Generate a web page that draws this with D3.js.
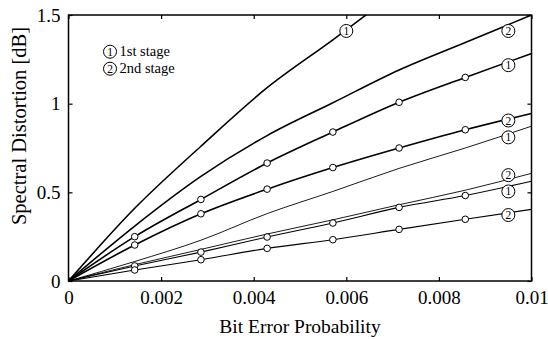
<!DOCTYPE html>
<html>
<head>
<meta charset="utf-8">
<script src="https://cdn.jsdelivr.net/npm/d3@7"></script>
<style>
  body { margin: 0; background: #fff; }
  svg { display: block; }
  svg text { font-family: "Liberation Serif", "Times New Roman", serif; }
</style>
</head>
<body>
<svg id="chart"></svg>
<script>
// bit error probabilities where the curves were sampled
const berValues = [0, 0.00143, 0.00286, 0.00429, 0.00571, 0.00714, 0.00857, 0.01];

// spectral distortion [dB] per curve, top to bottom
const curveA = [0, 0.41, 0.76, 1.09, 1.36, 1.64];
const curveB = [0, 0.31, 0.59, 0.82, 1.005, 1.19, 1.345, 1.5];
const curveC = [0, 0.25, 0.46, 0.665, 0.84, 1.008, 1.148, 1.283];
const curveD = [0, 0.203, 0.379, 0.518, 0.64, 0.75, 0.853, 0.945];
const curveE = [0, 0.11, 0.23, 0.38, 0.505, 0.635, 0.75, 0.873];
const curveF = [0, 0.092, 0.178, 0.265, 0.345, 0.43, 0.512, 0.607];
const curveG = [0, 0.085, 0.163, 0.248, 0.327, 0.415, 0.482, 0.563];
const curveH = [0, 0.062, 0.12, 0.184, 0.233, 0.291, 0.348, 0.404];

// curve labels: stage number and where the circled number sits
const curveLabels = [
  { x: 0.006, y: 1.41, text: "1" },
  { x: 0.0095, y: 1.41, text: "2" },
  { x: 0.0095, y: 1.217, text: "1" },
  { x: 0.0095, y: 0.905, text: "2" },
  { x: 0.0095, y: 0.81, text: "1" },
  { x: 0.0095, y: 0.597, text: "2" },
  { x: 0.0095, y: 0.505, text: "1" },
  { x: 0.0095, y: 0.372, text: "2" }
];

const xTicks = [0, 0.002, 0.004, 0.006, 0.008, 0.01];
const xTickLabels = ["0", "0.002", "0.004", "0.006", "0.008", "0.01"];
const yTicks = [0, 0.5, 1, 1.5];
const yTickLabels = ["0", "0.5", "1", "1.5"];
const legendItems = [["1", "1st stage"], ["2", "2nd stage"]];

const width = 548, height = 339;
const margin = { top: 15, right: 16.5, bottom: 58, left: 68.5 };
const innerW = width - margin.left - margin.right;
const innerH = height - margin.top - margin.bottom;

const svg = d3.select("#chart").attr("width", width).attr("height", height);
const g = svg.append("g").attr("transform", `translate(${margin.left},${margin.top})`);

const x = d3.scaleLinear().domain([0, 0.01]).range([0, innerW]);
const y = d3.scaleLinear().domain([0, 1.5]).range([innerH, 0]);

g.append("clipPath").attr("id", "plot-clip")
  .append("rect").attr("width", innerW).attr("height", innerH);

// curves (series, line width, markers?)
const curves = [
  { vals: curveA, w: 1.6, marks: false },
  { vals: curveB, w: 1.6, marks: false },
  { vals: curveC, w: 1.6, marks: true },
  { vals: curveD, w: 1.6, marks: true },
  { vals: curveE, w: 0.9, marks: false },
  { vals: curveF, w: 0.9, marks: false },
  { vals: curveG, w: 1.1, marks: true },
  { vals: curveH, w: 1.1, marks: true }
];

const line = d3.line()
  .x(d => x(d[0]))
  .y(d => y(d[1]))
  .curve(d3.curveMonotoneX);

const lines = g.append("g").attr("clip-path", "url(#plot-clip)");
curves.forEach(c => {
  const pts = c.vals.map((v, i) => [berValues[i], v]);
  lines.append("path")
    .datum(pts)
    .attr("fill", "none")
    .attr("stroke", "#000")
    .attr("stroke-width", c.w)
    .attr("stroke-linejoin", "round")
    .attr("d", line);
});

// open circle markers on the sampled points
curves.filter(c => c.marks).forEach(c => {
  const pts = c.vals.map((v, i) => [berValues[i], v]).slice(1, 7);
  g.selectAll(null)
    .data(pts)
    .enter()
    .append("circle")
    .attr("cx", d => x(d[0]))
    .attr("cy", d => y(d[1]))
    .attr("r", 3.3)
    .attr("fill", "#fff")
    .attr("stroke", "#000")
    .attr("stroke-width", 1);
});

// circled stage numbers
function circledNumber(parent, cx, cy, t) {
  parent.append("circle")
    .attr("cx", cx).attr("cy", cy).attr("r", 6.5)
    .attr("fill", "#fff").attr("stroke", "#000").attr("stroke-width", 1);
  parent.append("text")
    .attr("x", cx).attr("y", cy + 4)
    .attr("text-anchor", "middle")
    .attr("font-size", 11.5)
    .text(t);
}

curveLabels.forEach(l => circledNumber(g, x(l.x), y(l.y), l.text));

// frame and ticks (all ticks point inward)
g.append("rect")
  .attr("width", innerW).attr("height", innerH)
  .attr("fill", "none").attr("stroke", "#000").attr("stroke-width", 1.5);

const xAxis = g.append("g")
  .attr("transform", `translate(0,${innerH})`)
  .call(d3.axisBottom(x).tickValues(xTicks).tickSize(-4).tickPadding(10)
    .tickFormat((d, i) => xTickLabels[i]));
const yAxis = g.append("g")
  .call(d3.axisLeft(y).tickValues(yTicks).tickSize(-4).tickPadding(8)
    .tickFormat((d, i) => yTickLabels[i]));
g.append("g")
  .call(d3.axisTop(x).tickValues(xTicks).tickSize(-4).tickFormat(""));
g.append("g")
  .attr("transform", `translate(${innerW},0)`)
  .call(d3.axisRight(y).tickValues(yTicks).tickSize(-4).tickFormat(""));

g.selectAll(".domain").remove();
g.selectAll(".tick line").attr("stroke", "#000").attr("stroke-width", 1.2);
[xAxis, yAxis].forEach(a => a.attr("font-family", null).selectAll("text")
  .style("font-family", "'Liberation Serif', serif")
  .attr("font-size", 19)
  .attr("fill", "#000"));

// axis titles
svg.append("text")
  .attr("x", margin.left + innerW / 2)
  .attr("y", 333)
  .attr("text-anchor", "middle")
  .attr("font-size", 19.5)
  .text("Bit Error Probability");

svg.append("text")
  .attr("transform", `translate(26,${margin.top + innerH / 2 - 22}) rotate(-90)`)
  .attr("text-anchor", "middle")
  .attr("font-size", 20.5)
  .text("Spectral Distortion [dB]");

// legend
const legend = svg.append("g");
legendItems.forEach((item, i) => {
  const cy = 51.7 + i * 17;
  circledNumber(legend, 110, cy, item[0]);
  legend.append("text")
    .attr("x", 119.5)
    .attr("y", cy + 4.5)
    .attr("font-size", 14.5)
    .text(item[1]);
});
</script>
</body>
</html>
